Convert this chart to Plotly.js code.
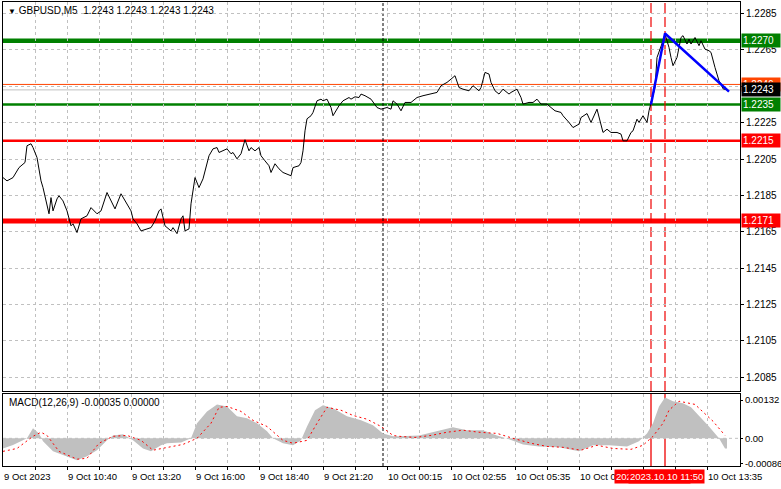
<!DOCTYPE html>
<html><head><meta charset="utf-8">
<script src="https://cdn.plot.ly/plotly-3.0.1.min.js"></script>
<style>html,body{margin:0;padding:0;background:#fff}#chart{width:781px;height:489px}</style>
</head><body><div id="chart"></div>
<script>
// ---- Data (bar index of M5 candles, price) ----
const priceBars = [0,2,5,8,11,12,14,15,17,19,20,23,24,25,27,28,30,32,34,35,37,39,42,44,47,49,52,54,56,59,61,64,65,67,69,72,74,76,78,79,81,84,85,87,89,90,91,93,94,96,98,100,103,105,107,108,110,112,114,115,117,119,121,123,124,126,128,129,131,133,134,136,138,140,144,145,148,149,150,151,152,154,155,157,159,160,162,164,165,168,170,173,174,176,178,179,181,183,184,187,189,192,194,195,197,199,201,204,207,210,214,217,219,222,224,226,228,230,233,235,238,239,241,243,244,246,248,250,253,254,257,259,260,263,265,267,269,272,274,276,279,280,283,285,288,289,292,294,297,299,300,302,304,307,309,310,312,314,315,317,318,320,322,323,325,326,327,329,330,331,333,334,335,337,338,339,340,342,343,344,346,348,349,351,353,354,356,358,359,360,362];
const priceVals = [1.21948,1.21930,1.21948,1.22003,1.22031,1.22123,1.22134,1.22113,1.22058,1.21930,1.21893,1.21749,1.21838,1.21765,1.21831,1.21848,1.21820,1.21765,1.21683,1.21694,1.21646,1.21721,1.21738,1.21783,1.21749,1.21765,1.21866,1.21820,1.21776,1.21859,1.21820,1.21765,1.21721,1.21694,1.21655,1.21666,1.21673,1.21710,1.21765,1.21776,1.21683,1.21655,1.21673,1.21640,1.21721,1.21738,1.21655,1.21666,1.21804,1.21948,1.21893,1.21941,1.22068,1.22106,1.22113,1.22086,1.22095,1.22106,1.22079,1.22086,1.22051,1.22079,1.22156,1.22095,1.22113,1.22095,1.22113,1.22068,1.22040,1.22013,1.21976,1.22024,1.21996,1.21976,1.21958,1.22003,1.22013,1.22031,1.22095,1.22205,1.22271,1.22288,1.22306,1.22370,1.22379,1.22370,1.22379,1.22333,1.22288,1.22343,1.22370,1.22388,1.22379,1.22392,1.22388,1.22407,1.22398,1.22388,1.22379,1.22333,1.22324,1.22333,1.22324,1.22370,1.22352,1.22315,1.22361,1.22361,1.22388,1.22398,1.22407,1.22416,1.22453,1.22471,1.22489,1.22508,1.22443,1.22434,1.22425,1.22453,1.22425,1.22443,1.22526,1.22517,1.22471,1.22425,1.22407,1.22434,1.22407,1.22416,1.22434,1.22388,1.22352,1.22361,1.22361,1.22379,1.22352,1.22352,1.22333,1.22315,1.22306,1.22288,1.22251,1.22223,1.22242,1.22278,1.22300,1.22251,1.22324,1.22233,1.22196,1.22214,1.22196,1.22196,1.22187,1.22150,1.22150,1.22196,1.22205,1.22269,1.22251,1.22288,1.22251,1.22315,1.22407,1.22443,1.22608,1.22663,1.22700,1.22737,1.22663,1.22608,1.22563,1.22608,1.22673,1.22718,1.22728,1.22682,1.22709,1.22682,1.22718,1.22673,1.22700,1.22654,1.22645,1.22636,1.22553,1.22480,1.22462,1.22436,1.22430];

const histBars = [0,5,12,15,18,20,25,32,37,42,47,52,55,60,65,70,74,79,82,89,94,97,102,107,112,117,122,127,132,135,140,145,149,152,156,160,165,172,179,185,190,195,198,208,217,225,232,240,247,253,260,268,278,288,295,303,312,318,322,325,328,331,335,340,344,348,353,358,361,362];
const histVals = [-0.00035,-0.00023,0,0.00035,0.00017,-0.0001,-0.00045,-0.00062,-0.00076,-0.00062,-0.00041,-0.00007,0.0001,0.00014,-0.00007,-0.00035,-0.00045,-0.00024,-0.00017,-0.00014,0,0.00052,0.00093,0.00117,0.0011,0.00076,0.00069,0.00052,0.00024,0,-0.00017,-0.00024,-0.00007,0.00041,0.00097,0.00114,0.00104,0.00076,0.00062,0.00045,0.00017,0.00007,0.00007,0.0001,0.00024,0.00038,0.00028,0.00028,0.0001,-0.00003,-0.00021,-0.00028,-0.00031,-0.00045,-0.00024,-0.00024,-0.00028,-0.0001,0.00017,0.00052,0.0011,0.00141,0.00128,0.00121,0.00107,0.00079,0.00041,0,-0.00035,-0.00035];

const signalBars = [0,7,15,19,22,28,37,42,48,55,62,69,75,82,90,97,104,108,112,119,125,132,140,145,152,157,162,169,175,182,189,195,198,206,214,222,230,238,247,255,264,272,280,289,297,305,314,320,325,330,333,338,346,348,355,361];
const signalVals = [-0.00045,-0.00035,0.00007,0.00021,0.0001,-0.00045,-0.00072,-0.00069,-0.00017,0.00007,0.0001,-0.00007,-0.00041,-0.00031,-0.00021,0,0.00052,0.00107,0.0011,0.00093,0.00062,0.00041,-0.00007,-0.00017,-0.00007,0.00052,0.00107,0.00097,0.00079,0.00066,0.00041,0.0001,0.00007,0.00003,0.0001,0.00021,0.00028,0.00021,0.00017,0,-0.00017,-0.00028,-0.00031,-0.00041,-0.00024,-0.00035,-0.00038,-0.00024,0.00007,0.00052,0.00097,0.00128,0.00117,0.00104,0.00059,0.0001];

const trendBars = [324, 331, 363];
const trendPrices = [1.2235, 1.2274, 1.2242];

const levelPrices = [1.2270, 1.2246, 1.2243, 1.2235, 1.2215, 1.2171];
const levelLabels = ['1.2270', '1.2246', '1.2243', '1.2235', '1.2215', '1.2171'];

const markerBars = [324, 331];
const markerLabels = ['2023.10.10 11:15', '2023.10.10 11:50'];
const separatorBar = 190;

const priceTickVals = [1.2285,1.2265,1.2245,1.2225,1.2205,1.2185,1.2165,1.2145,1.2125,1.2105,1.2085];
const priceTickText = ['1.2285','1.2265','','1.2225','1.2205','1.2185','1.2165','1.2145','1.2125','1.2105','1.2085'];
const macdTickVals = [0.00132, 0, -0.00086];
const macdTickText = ['0.00132', '0.00', '-0.00086'];

const gridBars = [16,32,48,64,80,96,112,128,144,160,176,192,208,224,240,256,272,288,304,320,336,352];
const timeLabelBars = [0,32,64,96,128,160,192,224,256,288,352];
const timeLabels = ['9 Oct 2023','9 Oct 10:40','9 Oct 13:20','9 Oct 16:00','9 Oct 18:40','9 Oct 21:20','10 Oct 00:15','10 Oct 02:55','10 Oct 05:35','10 Oct 08:15','10 Oct 13:35'];

const titleText = 'GBPUSD,M5  1.2243 1.2243 1.2243 1.2243';
const macdText = 'MACD(12,26,9) -0.00035 0.00000';

// ---- Styles ----
const levelStyles = [
  {color:'#008000', width:4.5},
  {color:'#ff4500', width:1},
  {color:'#c0c0c0', width:1},
  {color:'#008000', width:2.5},
  {color:'#ff0000', width:2.5},
  {color:'#ff0000', width:5}
];
const labelBg = ['#008000','#ff4500','#000000','#008000','#ff0000','#ff0000'];
const FONT = 'Liberation Sans, Arial, sans-serif';

const traces = [
  {x: histBars, y: histVals, xaxis:'x2', yaxis:'y2', type:'scatter', mode:'lines',
   fill:'tozeroy', fillcolor:'#c0c0c0', line:{width:0, color:'#c0c0c0'}, hoverinfo:'skip'},
  {x: signalBars, y: signalVals, xaxis:'x2', yaxis:'y2', type:'scatter', mode:'lines',
   line:{color:'#ff0000', width:1, dash:'2px,3px'}, hoverinfo:'skip'},
  {x: priceBars, y: priceVals, xaxis:'x', yaxis:'y', type:'scatter', mode:'lines',
   line:{color:'#000000', width:1}, hoverinfo:'skip'},
  {x: trendBars, y: trendPrices, xaxis:'x', yaxis:'y', type:'scatter', mode:'lines',
   line:{color:'#0000ff', width:2.5}, hoverinfo:'skip'}
];

const shapes = [];
levelPrices.forEach((p, i) => {
  shapes.push({type:'line', xref:'x domain', x0:0, x1:1, yref:'y', y0:p, y1:p,
    line:{color:levelStyles[i].color, width:levelStyles[i].width}, layer:'below'});
});
markerBars.forEach(b => {
  shapes.push({type:'line', xref:'x', x0:b, x1:b, yref:'y domain', y0:0, y1:1,
    line:{color:'#ee0000', width:1.2, dash:'10px,4px'}, layer:'below'});
  shapes.push({type:'line', xref:'x2', x0:b, x1:b, yref:'y2 domain', y0:0, y1:1,
    line:{color:'#ee0000', width:1.3}, layer:'below'});
});
shapes.push({type:'line', xref:'x', x0:separatorBar, x1:separatorBar, yref:'y domain', y0:0, y1:1,
  line:{color:'#000', width:1, dash:'3px,2px'}, layer:'below'});
shapes.push({type:'line', xref:'x2', x0:separatorBar, x1:separatorBar, yref:'y2 domain', y0:0, y1:1,
  line:{color:'#000', width:1, dash:'3px,2px'}, layer:'below'});
shapes.push({type:'line', xref:'x2 domain', x0:0, x1:1, yref:'y2', y0:0, y1:0,
  line:{color:'#c0c0c0', width:1, dash:'3px,3px'}, layer:'below'});

const annotations = [];
annotations.push({xref:'paper', yref:'paper', x:0, y:1, xanchor:'left', yanchor:'top', xshift:3, yshift:-1,
  text:'<span style="font-size:8px">▼</span> ' + titleText, showarrow:false, font:{family:FONT, size:10, color:'#000'}});
annotations.push({xref:'x2 domain', yref:'y2 domain', x:0, y:1, xanchor:'left', yanchor:'top', xshift:4, yshift:-1,
  text:macdText, showarrow:false, font:{family:FONT, size:10, color:'#000'}});
levelPrices.forEach((p, i) => {
  annotations.push({xref:'paper', yref:'y', x:1, y:p, xanchor:'left', yanchor:'middle', xshift:1,
    text:levelLabels[i], showarrow:false, bgcolor:labelBg[i], borderpad:1, width:36, align:'left',
    font:{family:FONT, size:10, color:'#fff'}});
});
timeLabelBars.forEach((b, i) => {
  annotations.push({xref:'x2', yref:'paper', x:b, y:0, xanchor:'left', yanchor:'top', yshift:-3, xshift:-1,
    text:timeLabels[i], showarrow:false, font:{family:FONT, size:9.5, color:'#000'}});
});
markerBars.forEach((b, i) => {
  annotations.push({xref:'x2', yref:'paper', x:b + 0.5, y:0, xanchor:'center', yanchor:'top', yshift:-3,
    text:markerLabels[i], showarrow:false, bgcolor:'#ff0000', borderpad:1,
    font:{family:FONT, size:9.5, color:'#fff'}});
});

const axisCommon = {showline:true, mirror:true, linecolor:'#000', linewidth:1, zeroline:false,
  gridcolor:'#c0c0c0', griddash:'3px,3px', gridwidth:1, fixedrange:true};

const layout = {
  width:781, height:489,
  margin:{l:3, r:41, t:2, b:23, pad:0},
  paper_bgcolor:'#ffffff', plot_bgcolor:'#ffffff',
  showlegend:false,
  font:{family:FONT, size:10, color:'#000'},
  xaxis: Object.assign({}, axisCommon, {domain:[0,1], anchor:'y', range:[0,368.5],
    tickmode:'array', tickvals:gridBars, showticklabels:false, showgrid:true, ticks:''}),
  yaxis: Object.assign({}, axisCommon, {domain:[0.1616,1], anchor:'x', side:'right', range:[1.20775,1.22913],
    tickmode:'array', tickvals:priceTickVals, ticktext:priceTickText, showgrid:true,
    ticks:'outside', ticklen:3, tickcolor:'#000', tickfont:{family:FONT, size:10, color:'#000'}}),
  xaxis2: Object.assign({}, axisCommon, {domain:[0,1], anchor:'y2', range:[0,368.5],
    tickmode:'array', tickvals:gridBars, showticklabels:false, showgrid:true,
    ticks:'outside', ticklen:3, tickcolor:'#000'}),
  yaxis2: Object.assign({}, axisCommon, {domain:[0,0.1552], anchor:'x2', side:'right', range:[-0.000955,0.00153],
    tickmode:'array', tickvals:macdTickVals, ticktext:macdTickText, showgrid:false,
    ticks:'outside', ticklen:2, tickcolor:'#000', tickfont:{family:FONT, size:9.5, color:'#000'}}),
  shapes: shapes,
  annotations: annotations
};

Plotly.newPlot('chart', traces, layout, {staticPlot:true, displayModeBar:false});
</script>
</body></html>
